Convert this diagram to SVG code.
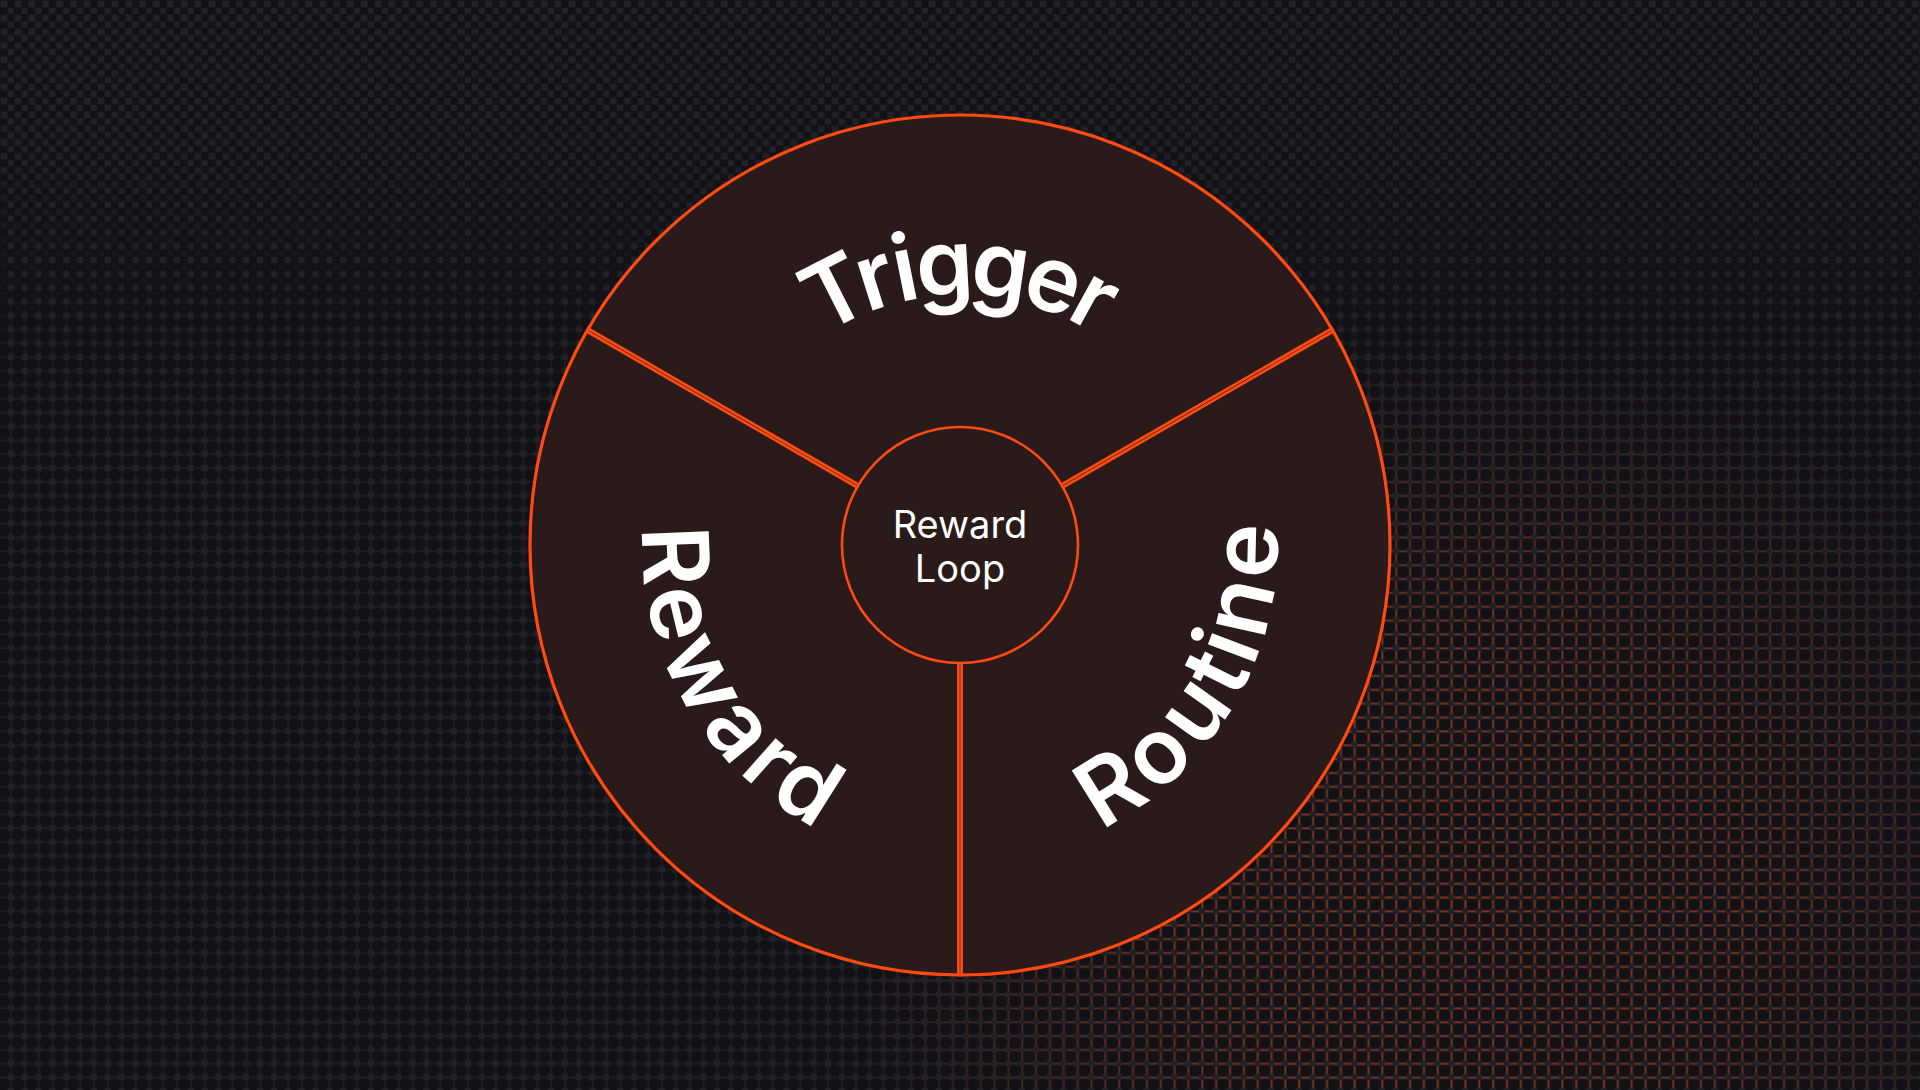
<svg xmlns="http://www.w3.org/2000/svg" width="1920" height="1090" viewBox="0 0 1920 1090">
  <defs>
    <style>
      .seg { font-family: Inter, "Open Sans", "Liberation Sans", sans-serif; font-weight: 600; font-size: 92px; fill: #ffffff; }
      .center { font-family: Inter, "Open Sans", "Liberation Sans", sans-serif; font-weight: 400; font-size: 38px; fill: #ffffff; }
      .ring { fill: #2a1a1a; stroke: #ff4a12; }
      .divider { fill: #2a1a1a; stroke: #ff4a12; stroke-width: 2.7; }
    </style>
    <pattern id="gridGray" patternUnits="userSpaceOnUse" width="13.85" height="13.85">
      <rect x="0" y="10.3" width="13.85" height="1.7" fill="#201f25"/>
      <rect x="10.3" y="0" width="1.7" height="13.85" fill="#201f25"/>
    </pattern>
    <pattern id="gridOrange" patternUnits="userSpaceOnUse" width="13.85" height="13.85">
      <rect x="0" y="10.3" width="13.85" height="1.9" fill="#8a361a"/>
      <rect x="10.3" y="0" width="1.9" height="13.85" fill="#8a361a"/>
    </pattern>
    <pattern id="dots" patternUnits="userSpaceOnUse" width="13.85" height="13.85">
      <rect x="7.7" y="7.7" width="6.6" height="6.6" fill="#222127"/>
    </pattern>
    <pattern id="dotsOff" patternUnits="userSpaceOnUse" width="13.85" height="13.85">
      <rect x="0.8" y="0.8" width="6.6" height="6.6" fill="#232228"/>
    </pattern>
    <linearGradient id="gLines" x1="0" y1="0" x2="0" y2="1090" gradientUnits="userSpaceOnUse">
      <stop offset="0" stop-color="#fff" stop-opacity="0"/>
      <stop offset="0.18" stop-color="#fff" stop-opacity="0"/>
      <stop offset="0.38" stop-color="#fff" stop-opacity="1"/>
      <stop offset="1" stop-color="#fff" stop-opacity="1"/>
    </linearGradient>
    <linearGradient id="gChecker" x1="0" y1="0" x2="0" y2="1090" gradientUnits="userSpaceOnUse">
      <stop offset="0" stop-color="#fff" stop-opacity="1"/>
      <stop offset="0.14" stop-color="#fff" stop-opacity="0.9"/>
      <stop offset="0.3" stop-color="#fff" stop-opacity="0"/>
    </linearGradient>
    <radialGradient id="gOrange" cx="1460" cy="880" r="640" gradientUnits="userSpaceOnUse" gradientTransform="translate(1460 880) scale(1 0.85) translate(-1460 -880)">
      <stop offset="0" stop-color="#fff" stop-opacity="1"/>
      <stop offset="0.45" stop-color="#fff" stop-opacity="0.9"/>
      <stop offset="0.8" stop-color="#fff" stop-opacity="0.3"/>
      <stop offset="1" stop-color="#fff" stop-opacity="0"/>
    </radialGradient>
    <mask id="mLines" maskUnits="userSpaceOnUse" x="0" y="0" width="1920" height="1090">
      <rect width="1920" height="1090" fill="url(#gLines)"/>
    </mask>
    <mask id="mChecker" maskUnits="userSpaceOnUse" x="0" y="0" width="1920" height="1090">
      <rect width="1920" height="1090" fill="url(#gChecker)"/>
    </mask>
    <mask id="mOrange" maskUnits="userSpaceOnUse" x="0" y="0" width="1920" height="1090">
      <rect width="1920" height="1090" fill="url(#gOrange)"/>
    </mask>
    <path id="arcTop" d="M 675 545 A 285 285 0 0 1 1245 545"/>
    <path id="arcLeft" d="M 817.5 298.2 A 285 285 0 0 0 1102.5 791.8"/>
    <path id="arcRight" d="M 817.5 791.8 A 285 285 0 0 0 1102.5 298.2"/>
  </defs>

  <g id="background">
    <rect width="1920" height="1090" fill="#121116"/>
    <rect width="1920" height="1090" fill="url(#gridGray)" mask="url(#mLines)"/>
    <rect width="1920" height="1090" fill="url(#gridOrange)" mask="url(#mOrange)"/>
    <rect width="1920" height="1090" fill="url(#dots)"/>
    <rect width="1920" height="1090" fill="url(#dotsOff)" mask="url(#mChecker)"/>
  </g>

  <g id="wheel">
    <circle class="ring" cx="960" cy="545" r="430" stroke-width="3.2"/>
  </g>

  <g id="connectors">
    <rect class="divider" x="958.4" y="662" width="3.2" height="313"/>
    <rect class="divider" x="958.4" y="662" width="3.2" height="313" transform="rotate(120 960 545)"/>
    <rect class="divider" x="958.4" y="662" width="3.2" height="313" transform="rotate(-120 960 545)"/>
  </g>

  <g id="trigger">
    <text class="seg" text-anchor="middle"><textPath href="#arcTop" startOffset="50%"><tspan dy="35">Trigger</tspan></textPath></text>
  </g>
  <g id="reward">
    <text class="seg" text-anchor="middle"><textPath href="#arcLeft" startOffset="50%"><tspan dy="35">Reward</tspan></textPath></text>
  </g>
  <g id="routine">
    <text class="seg" text-anchor="middle"><textPath href="#arcRight" startOffset="50%"><tspan dy="35">Routine</tspan></textPath></text>
  </g>

  <g id="reward-loop">
    <circle class="ring" cx="960" cy="545" r="118" stroke-width="2.6"/>
    <text class="center" x="960" y="538" text-anchor="middle">Reward</text>
    <text class="center" x="960" y="582" text-anchor="middle">Loop</text>
  </g>
</svg>
